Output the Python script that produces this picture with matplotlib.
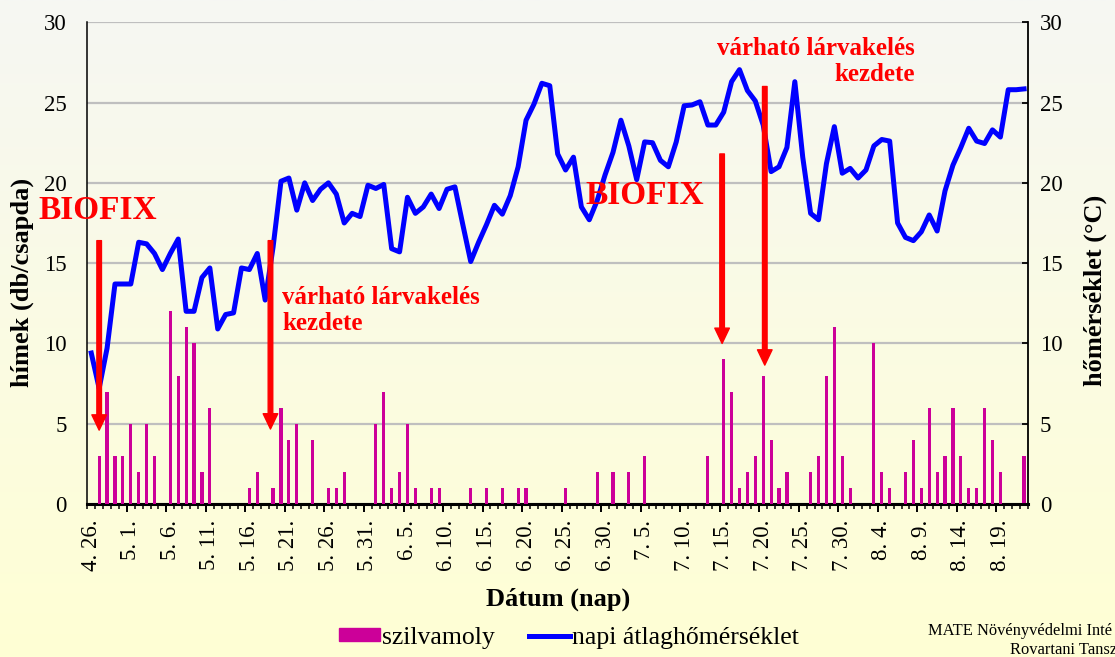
import matplotlib
matplotlib.use('Agg')
import matplotlib.pyplot as plt
import numpy as np
from matplotlib.lines import Line2D
from matplotlib.patches import Patch

plt.rcParams['font.family'] = ['Liberation Serif', 'DejaVu Serif']

# ---------------- data ----------------
# daily categories: 4.26 ... 8.23 (119 days)
label_positions = list(range(0, 116, 5))
date_labels = ['4. 26.', '5. 1.', '5. 6.', '5. 11.', '5. 16.', '5. 21.', '5. 26.',
               '5. 31.', '6. 5.', '6. 10.', '6. 15.', '6. 20.', '6. 25.', '6. 30.',
               '7. 5.', '7. 10.', '7. 15.', '7. 20.', '7. 25.', '7. 30.', '8. 4.',
               '8. 9.', '8. 14.', '8. 19.']

# szilvamoly catches (male / trap / day)
moths = [0, 3, 7, 3, 3, 5, 2, 5, 3, 0,
         12, 8, 11, 10, 2, 6, 0, 0, 0, 0,
         1, 2, 0, 1, 6, 4, 5, 0, 4, 0,
         1, 1, 2, 0, 0, 0, 5, 7, 1, 2,
         5, 1, 0, 1, 1, 0, 0, 0, 1, 0,
         1, 0, 1, 0, 1, 1, 0, 0, 0, 0,
         1, 0, 0, 0, 2, 0, 2, 0, 2, 0,
         3, 0, 0, 0, 0, 0, 0, 0, 3, 0,
         9, 7, 1, 2, 3, 8, 4, 1, 2, 0,
         0, 2, 3, 8, 11, 3, 1, 0, 0, 10,
         2, 1, 0, 2, 4, 1, 6, 2, 3, 6,
         3, 1, 1, 6, 4, 2, 0, 0, 3]

# daily mean temperature (°C)
temp = [9.4, 7.2, 9.7, 13.7, 13.7, 13.7, 16.3, 16.2, 15.6, 14.6,
        15.6, 16.5, 12.0, 12.0, 14.1, 14.7, 10.9, 11.8, 11.9, 14.7,
        14.6, 15.6, 12.7, 16.0, 20.1, 20.3, 18.3, 20.0, 18.9, 19.6,
        20.0, 19.3, 17.5, 18.1, 17.9, 19.85, 19.65, 19.9, 15.9, 15.7,
        19.1, 18.1, 18.5, 19.3, 18.4, 19.6, 19.75, 17.4, 15.1, 16.3,
        17.4, 18.6, 18.05, 19.2, 21.0, 23.9, 24.9, 26.2, 26.05, 21.8,
        20.8, 21.6, 18.5, 17.7, 18.9, 20.5, 21.9, 23.9, 22.3, 20.2,
        22.55, 22.5, 21.4, 21.0, 22.55, 24.8, 24.85, 25.05, 23.6, 23.6,
        24.4, 26.3, 27.05, 25.75, 25.1, 23.6, 20.7, 21.0, 22.2, 26.3,
        21.6, 18.1, 17.7, 21.2, 23.5, 20.6, 20.9, 20.3, 20.8, 22.3,
        22.7, 22.6, 17.5, 16.6, 16.4, 16.95, 18.0, 17.0, 19.5, 21.1,
        22.2, 23.4, 22.6, 22.45, 23.3, 22.85, 25.8, 25.8, 25.85]

# annotation arrows: (category position, tail value, tip value)
arrow_x = [1.0, 22.67, 79.8, 85.2]
arrow_top = [16.4, 16.4, 21.8, 26.0]
arrow_tip = [4.6, 4.67, 10.0, 8.65]

n_days = len(moths)
x = np.arange(n_days)

# ---------------- figure ----------------
fig = plt.figure(figsize=(11.15, 6.57), dpi=100)

# background gradient
bg = fig.add_axes([0, 0, 1, 1], zorder=-10)
g = np.linspace(0, 1, 256)[:, None, None]
c_top = np.array([246, 247, 243]) / 255.0
c_bot = np.array([255, 255, 212]) / 255.0
img = c_top[None, None, :] * (1 - g) + c_bot[None, None, :] * g
bg.imshow(img, aspect='auto', extent=[0, 1, 0, 1], origin='upper')
bg.axis('off')

ax = fig.add_axes([0.0783, 0.2329, 0.8437, 0.7332])
ax.set_facecolor('none')
ax.bar(x, moths, width=0.4, color='#CC0099', zorder=3)
ax.set_xlim(-0.5, n_days - 0.5)
ax.set_ylim(0, 30)
ax.set_yticks(range(0, 31, 5))
ax.yaxis.grid(True, color='#BFBFBF', lw=1.6)
ax.set_axisbelow(True)

for s in ['top', 'right']:
    ax.spines[s].set_visible(False)
ax.spines['left'].set_linewidth(1.1)
ax.spines['bottom'].set_linewidth(2.2)

ax.set_xticks(label_positions)
ax.set_xticklabels(date_labels, rotation=90, fontsize=16.5)
ax.tick_params(axis='x', which='major', length=0, pad=11.5)
ax.set_xticks(np.arange(-0.5, n_days, 1), minor=True)
ax.tick_params(axis='x', which='minor', length=3.8, width=1.1, direction='out')
ax.tick_params(axis='y', length=0, pad=15, labelsize=16.5)

sec = ax.secondary_xaxis('bottom')
sec.set_xticks(np.arange(4.5, n_days - 1, 5))
sec.tick_params(length=6.0, width=1.4, labelbottom=False)
sec.spines['bottom'].set_visible(False)

ax2 = ax.twinx()
ax2.set_ylim(0, 30)
ax2.set_yticks(range(0, 31, 5))
ax2.plot(x, temp, color='#0000FF', lw=3.6, solid_joinstyle='round', zorder=4)
for s in ['top', 'left', 'bottom']:
    ax2.spines[s].set_visible(False)
ax2.spines['right'].set_linewidth(1.3)
ax2.tick_params(axis='y', direction='in', length=4.3, width=1.3, pad=8.6, labelsize=16.5)

# arrows
for ax_, top_, tip_ in zip(arrow_x, arrow_top, arrow_tip):
    ax2.annotate('', xy=(ax_, tip_), xytext=(ax_, top_),
                 arrowprops=dict(color='#FF0000', width=3.3, headwidth=10.5,
                                 headlength=11, shrink=0),
                 annotation_clip=False, zorder=6)

# annotation texts
ax2.text(-6.74, 18.27, 'BIOFIX', ha='left', va='center', fontsize=24,
         fontweight='bold', color='#FF0000', zorder=7, clip_on=False)
ax2.text(62.55, 19.24, 'BIOFIX', ha='left', va='center', fontsize=24,
         fontweight='bold', color='#FF0000', zorder=7)
ax2.text(24.13, 12.05, 'várható lárvakelés\nkezdete', ha='left', va='center',
         multialignment='left', fontsize=18, fontweight='bold', color='#FF0000', zorder=7)
ax2.text(104.2, 27.55, 'várható lárvakelés\nkezdete', ha='right', va='center',
         multialignment='right', fontsize=18, fontweight='bold', color='#FF0000', zorder=7)

# axis titles
fig.text(22 / 1115, 1 - 282 / 657, 'hímek (db/csapda)', rotation=90, ha='center',
         va='center', fontsize=19, fontweight='bold')
fig.text(1095 / 1115, 1 - 290 / 657, 'hőmérséklet (°C)', rotation=90, ha='center',
         va='center', fontsize=19, fontweight='bold')
fig.text(558 / 1115, 1 - 599 / 657, 'Dátum (nap)', ha='center', va='center',
         fontsize=19, fontweight='bold')

# legend
handles = [Patch(color='#CC0099'), Line2D([], [], color='#0000FF', lw=3.6)]
fig.legend(handles, ['szilvamoly', 'napi átlaghőmérséklet'], loc='center',
           bbox_to_anchor=(569 / 1115, 1 - 638 / 657), ncol=2, frameon=False,
           fontsize=18.5, handlelength=1.6, handleheight=0.4, handletextpad=0.1,
           columnspacing=1.3, borderpad=0, borderaxespad=0)

# source note (cropped in the original)
fig.text(928 / 1115, 1 - 631 / 657, 'MATE Növényvédelmi Inté', ha='left', va='center',
         fontsize=11.9)
fig.text(1010 / 1115, 1 - 650 / 657, 'Rovartani Tansz', ha='left', va='center',
         fontsize=11.9)

fig.savefig('out.png', dpi=100)
